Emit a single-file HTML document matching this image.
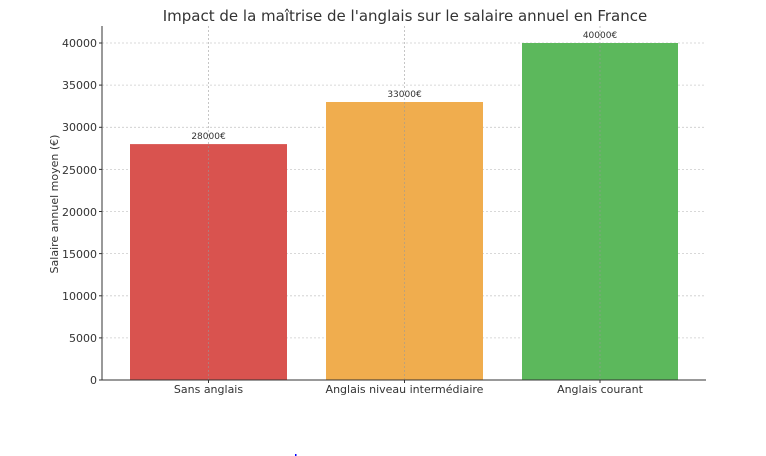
<!DOCTYPE html>
<html><head><meta charset="utf-8"><style>body{margin:0;background:#fff}svg{display:block}</style></head>
<body>
<svg width="766" height="456" xmlns="http://www.w3.org/2000/svg" font-family="DejaVu Sans, Liberation Sans, sans-serif">
<rect width="766" height="456" fill="#fff"/>
<text x="405" y="21" font-size="15" text-anchor="middle" fill="#333">Impact de la maîtrise de l'anglais sur le salaire annuel en France</text>
<g stroke="#ccc" stroke-width="0.8" stroke-dasharray="2,2">
<line x1="102" x2="706" y1="43" y2="43"/><line x1="102" x2="706" y1="85.1" y2="85.1"/>
<line x1="102" x2="706" y1="127.3" y2="127.3"/><line x1="102" x2="706" y1="169.4" y2="169.4"/>
<line x1="102" x2="706" y1="211.5" y2="211.5"/><line x1="102" x2="706" y1="253.6" y2="253.6"/>
<line x1="102" x2="706" y1="295.8" y2="295.8"/><line x1="102" x2="706" y1="337.9" y2="337.9"/>
</g>
<rect x="130" y="144.1" width="157" height="235.9" fill="#d9534f"/>
<rect x="326" y="102" width="157" height="278" fill="#f0ad4e"/>
<rect x="522" y="43" width="156" height="337" fill="#5cb85c"/>
<g stroke="#999" stroke-width="0.8" stroke-dasharray="2,2" opacity="0.7">
<line x1="208.5" x2="208.5" y1="26" y2="380"/><line x1="404.5" x2="404.5" y1="26" y2="380"/><line x1="600" x2="600" y1="26" y2="380"/>
</g>
<g font-size="9" fill="#333" text-anchor="middle">
<text x="208.5" y="139">28000€</text><text x="404.5" y="97">33000€</text><text x="600" y="38">40000€</text>
</g>
<line x1="102" x2="102" y1="26" y2="380.5" stroke="#333" stroke-width="1"/>
<line x1="102" x2="706" y1="380" y2="380" stroke="#333" stroke-width="1"/>
<g font-size="11" fill="#333" text-anchor="end">
<text x="97" y="384">0</text><text x="97" y="342">5000</text><text x="97" y="300">10000</text>
<text x="97" y="258">15000</text><text x="97" y="216">20000</text><text x="97" y="174">25000</text>
<text x="97" y="131">30000</text><text x="97" y="89">35000</text><text x="97" y="47">40000</text>
</g>
<g stroke="#333"><line x1="99" x2="102" y1="380" y2="380"/><line x1="99" x2="102" y1="337.9" y2="337.9"/><line x1="99" x2="102" y1="295.8" y2="295.8"/><line x1="99" x2="102" y1="253.6" y2="253.6"/><line x1="99" x2="102" y1="211.5" y2="211.5"/><line x1="99" x2="102" y1="169.4" y2="169.4"/><line x1="99" x2="102" y1="127.3" y2="127.3"/><line x1="99" x2="102" y1="85.1" y2="85.1"/><line x1="99" x2="102" y1="43" y2="43"/>
<line x1="208.5" x2="208.5" y1="380" y2="383"/><line x1="404.5" x2="404.5" y1="380" y2="383"/><line x1="600" x2="600" y1="380" y2="383"/></g>
<g font-size="11" fill="#333" text-anchor="middle">
<text x="208.5" y="393">Sans anglais</text><text x="404.5" y="393">Anglais niveau intermédiaire</text><text x="600" y="393">Anglais courant</text>
</g>
<text transform="translate(58,204) rotate(-90)" font-size="11" fill="#333" text-anchor="middle">Salaire annuel moyen (€)</text>
<rect x="295" y="454" width="1.5" height="2" fill="#00f"/>
</svg>
</body></html>
